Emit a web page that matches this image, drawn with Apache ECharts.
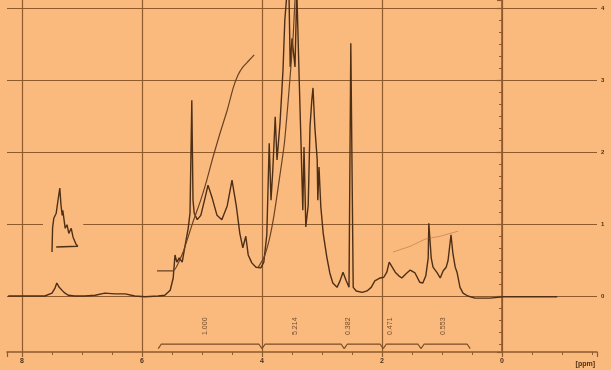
<!DOCTYPE html>
<html><head><meta charset="utf-8">
<script src="https://cdn.jsdelivr.net/npm/echarts@6/dist/echarts.min.js"></script>
<style>html,body{margin:0;padding:0;background:#FABA7E}#c{width:611px;height:370px}</style>
</head><body><div id="c"></div>
<script>
// chemical shift (ppm) / relative intensity
const xTickLabels = [0, 2, 4, 6, 8];
const yTickLabels = [0, 1, 2, 3, 4];
const spectrum = [
 [8.23,0],[7.62,0],[7.50,0.04],[7.45,0.11],[7.42,0.18],[7.38,0.12],[7.35,0.10],[7.30,0.05],[7.23,0.01],[7.12,0],
 [6.95,0],[6.78,0.01],[6.62,0.04],[6.45,0.03],[6.28,0.03],[6.12,0],[5.95,-0.01],[5.73,0],[5.62,0.01],[5.53,0.08],
 [5.48,0.25],[5.45,0.57],[5.42,0.47],[5.38,0.53],[5.33,0.47],[5.28,0.71],[5.23,0.94],[5.20,1.15],[5.17,2.72],[5.15,1.33],
 [5.13,1.15],[5.08,1.06],[5.02,1.12],[4.95,1.36],[4.90,1.54],[4.83,1.36],[4.75,1.12],[4.67,1.06],[4.58,1.25],[4.50,1.61],
 [4.43,1.26],[4.37,0.87],[4.32,0.67],[4.27,0.83],[4.23,0.57],[4.17,0.46],[4.10,0.40],[4.02,0.39],[3.97,0.47],[3.92,0.85],
 [3.88,2.12],[3.85,1.33],[3.82,1.75],[3.78,2.49],[3.75,1.89],[3.70,2.40],[3.65,3.14],[3.62,3.83],[3.58,4.25],[3.55,4.18],
 [3.53,3.18],[3.50,3.58],[3.48,3.56],[3.45,3.18],[3.42,4.25],[3.40,4.25],[3.38,3.00],[3.35,2.12],[3.32,1.19],[3.30,2.07],
 [3.27,0.96],[3.23,1.26],[3.20,2.35],[3.17,2.72],[3.15,2.89],[3.12,2.35],[3.08,1.89],[3.07,1.33],[3.05,1.79],[3.02,1.24],
 [2.98,0.87],[2.92,0.54],[2.87,0.32],[2.82,0.18],[2.75,0.12],[2.70,0.21],[2.65,0.33],[2.60,0.22],[2.55,0.12],[2.52,3.51],
 [2.48,0.12],[2.43,0.07],[2.33,0.05],[2.25,0.07],[2.18,0.12],[2.12,0.21],[2.03,0.25],[1.97,0.26],[1.92,0.33],[1.88,0.47],
 [1.83,0.40],[1.78,0.33],[1.72,0.28],[1.67,0.25],[1.60,0.31],[1.53,0.36],[1.45,0.32],[1.37,0.19],[1.32,0.18],[1.27,0.28],
 [1.23,0.53],[1.22,1.01],[1.18,0.53],[1.15,0.40],[1.08,0.32],[1.03,0.25],[0.98,0.35],[0.93,0.40],[0.90,0.49],[0.85,0.85],
 [0.82,0.60],[0.78,0.40],[0.75,0.33],[0.70,0.12],[0.65,0.04],[0.57,0],[0.45,-0.03],[0.20,-0.03],[-0.02,-0.01],[-0.30,-0.01],[-0.92,-0.01]
];
const integralA = [[5.75,0.35],[5.48,0.35],[5.32,0.60],[5.15,1.03],[5.03,1.31],[4.92,1.61],[4.82,1.92],[4.70,2.26],[4.58,2.58],[4.48,2.89],[4.40,3.07],[4.32,3.18],[4.23,3.26],[4.13,3.35]];
const integralB = [[4.07,0.39],[3.97,0.53],[3.88,0.78],[3.80,1.12],[3.72,1.57],[3.63,2.10],[3.57,2.65],[3.52,3.17],[3.48,3.62],[3.45,4.11],[3.43,4.25]];
const integralC = [[1.82,0.61],[1.53,0.69],[1.28,0.79],[1.03,0.83],[0.73,0.90]];
const aromaticInset = [[7.50,0.61],[7.49,0.95],[7.47,1.08],[7.43,1.15],[7.40,1.33],[7.37,1.50],[7.35,1.26],[7.33,1.12],[7.32,1.19],[7.28,0.94],[7.25,0.99],[7.22,0.87],[7.18,0.94],[7.15,0.82],[7.10,0.72],[7.07,0.69],[7.07,0.68],[7.43,0.68]];
const integralRegions = [[5.73,4.00],[4.00,2.63],[2.63,1.98],[1.98,1.35],[1.35,0.53]];
const integralLabelPpm = [4.95, 3.45, 2.57, 1.87, 0.98];
const integralLabels = ['1.000', '5.214', '0.382', '0.471', '0.553'];

const BG = '#FABA7E', GRID = '#8f5a2c', INK = '#4e2f15';
const chart = echarts.init(document.getElementById('c'));
const bracketSeries = integralRegions.map(r => ({
  type: 'line', showSymbol: false, silent: true, animation: false,
  lineStyle: { color: '#7a4c26', width: 1.2 },
  data: [[r[0], -0.73], [r[0] - 0.05, -0.67], [r[1] + 0.05, -0.67], [r[1], -0.73]]
}));
chart.setOption({
  backgroundColor: BG,
  animation: false,
  grid: { left: 7, right: 14, top: 0, bottom: 18 },
  xAxis: {
    type: 'value', inverse: true, min: -1.583, max: 8.25, splitNumber: 5,
    axisLine: { show: true, onZero: false, lineStyle: { color: GRID, width: 1.6 } },
    axisTick: { show: true, length: 5, lineStyle: { color: GRID, width: 1.2 } },
    minorTick: { show: true, splitNumber: 4, length: 3, lineStyle: { color: GRID } },
    axisLabel: { showMinLabel: false, showMaxLabel: false, color: INK, fontSize: 7, margin: 6,
      fontFamily: 'Liberation Sans', fontWeight: 'bold',
      formatter: v => xTickLabels.includes(v) ? String(v) : '' },
    splitLine: { show: true, showMinLine: false, showMaxLine: false, lineStyle: { color: GRID, width: 1.2 } }
  },
  yAxis: {
    type: 'value', position: 'right', min: -0.778, max: 4.111, splitNumber: 5,
    axisLine: { show: true, lineStyle: { color: GRID, width: 1.6 } },
    axisTick: { show: true, inside: true, length: 5, lineStyle: { color: GRID, width: 1.2 } },
    minorTick: { show: true, splitNumber: 6, length: 3, lineStyle: { color: GRID } },
    axisLabel: { showMinLabel: false, showMaxLabel: false, color: INK, fontSize: 6, margin: 4,
      fontFamily: 'Liberation Sans', fontWeight: 'bold',
      formatter: v => yTickLabels.includes(v) ? String(v) : '' },
    splitLine: { show: true, showMinLine: false, showMaxLine: false, lineStyle: { color: GRID, width: 1.2 } }
  },
  graphic: [{ type: 'text', right: 16, bottom: 2, style: { text: '[ppm]', fill: INK, fontSize: 7, fontWeight: 'bold', fontFamily: 'Liberation Sans' } }],
  series: [
    { type: 'line', data: aromaticInset, showSymbol: false, silent: true,
      lineStyle: { color: INK, width: 1.4 },
      markArea: { silent: true, itemStyle: { color: BG, opacity: 1 },
        data: [[{ coord: [7.65, 1.6] }, { coord: [6.98, 0.55] }]] } },
    { type: 'line', data: spectrum, showSymbol: false, silent: true, lineStyle: { color: INK, width: 1.4 } },
    { type: 'line', data: integralA, showSymbol: false, silent: true, smooth: 0.15, lineStyle: { color: '#6a4222', width: 1.2 } },
    { type: 'line', data: integralB, showSymbol: false, silent: true, smooth: 0.15, lineStyle: { color: '#6a4222', width: 1.2 } },
    { type: 'line', data: integralC, showSymbol: false, silent: true, lineStyle: { color: 'rgba(150,90,50,0.55)', width: 0.8 } },
    ...bracketSeries,
    { type: 'scatter', symbolSize: 0, silent: true,
      data: integralLabelPpm.map((p, i) => [p, -0.42, integralLabels[i]]),
      label: { show: true, position: 'inside', rotate: 90, fontSize: 7, color: INK,
        fontFamily: 'Liberation Sans', formatter: p => p.data[2] } }
  ]
});
</script></body></html>
